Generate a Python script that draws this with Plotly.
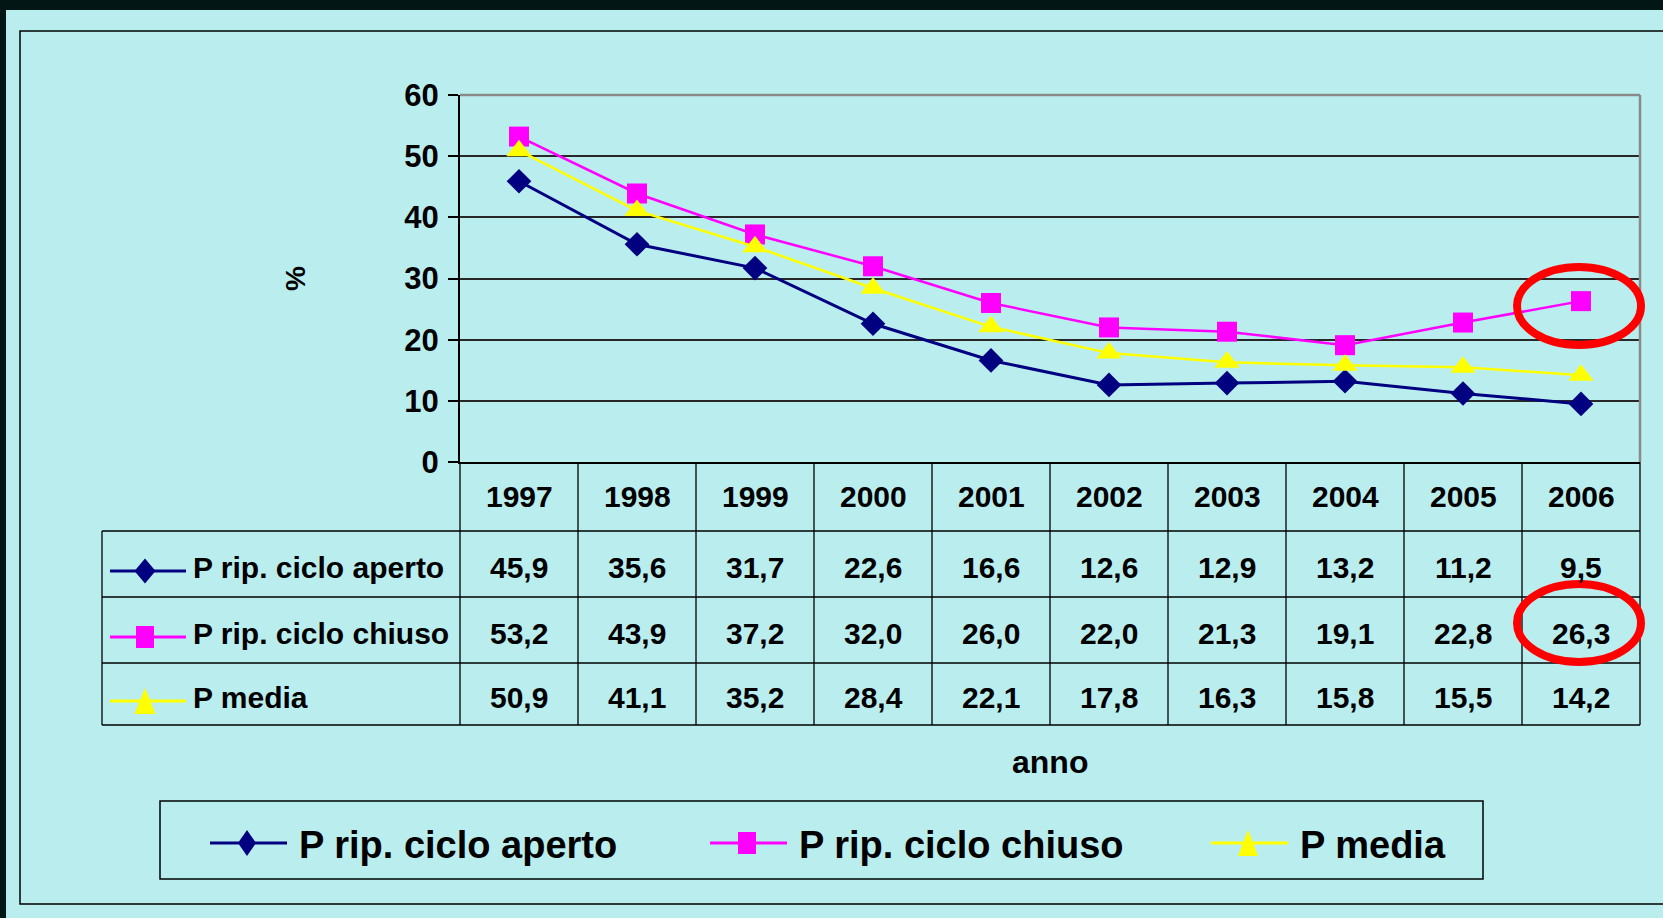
import plotly.graph_objects as go

# ---------------- data ----------------
years = ["1997", "1998", "1999", "2000", "2001", "2002", "2003", "2004", "2005", "2006"]
aperto = [45.9, 35.6, 31.7, 22.6, 16.6, 12.6, 12.9, 13.2, 11.2, 9.5]
chiuso = [53.2, 43.9, 37.2, 32.0, 26.0, 22.0, 21.3, 19.1, 22.8, 26.3]
media = [50.9, 41.1, 35.2, 28.4, 22.1, 17.8, 16.3, 15.8, 15.5, 14.2]
series_names = ["P rip. ciclo aperto", "P rip. ciclo chiuso", "P media"]
series_values = [aperto, chiuso, media]
series_colors = ["#000080", "#FF00FF", "#FFFF00"]
series_symbols = ["diamond", "square", "triangle-up"]
y_ticks = [0, 10, 20, 30, 40, 50, 60]
y_title = "%"
x_title = "anno"

# ---------------- layout geometry (pixels) ----------------
W, H = 1663, 918
L, R, T, B = 460, 1640, 95, 462
FONT = "Liberation Sans, Arial, sans-serif"
BG = "#BAEEEE"
DARK = "#031616"


def px(x):
    return (x - L) / (R - L)


def py(y):
    return (B - y) / (B - T)


def fmt(v):
    return f"{v:.1f}".replace(".", ",")


def bold(size):
    return dict(family=FONT, size=size, color="#000000", weight=700)


fig = go.Figure()
marker_sizes = [19, 20, 22]
line_widths = [3, 2.5, 2.5]
for name, vals, col, sym, ms, lw in zip(series_names, series_values, series_colors,
                                        series_symbols, marker_sizes, line_widths):
    fig.add_trace(go.Scatter(
        x=years, y=vals, name=name, mode="lines+markers",
        line=dict(color=col, width=lw),
        marker=dict(symbol=sym, size=ms, color=col, line=dict(width=0)),
        showlegend=False, cliponaxis=False,
    ))

shapes = []
annotations = []

# background + frames
shapes.append(dict(type="rect", xref="paper", yref="paper", layer="below",
                   x0=px(6), x1=px(W + 10), y0=py(10), y1=py(H + 10),
                   fillcolor=BG, line=dict(width=0)))
shapes.append(dict(type="rect", xref="paper", yref="paper", layer="below",
                   x0=px(20), x1=px(W + 20), y0=py(31), y1=py(904),
                   fillcolor="rgba(0,0,0,0)", line=dict(color="#000000", width=1.5)))
# grey plot-area border (top, right)
shapes.append(dict(type="line", xref="paper", yref="paper", x0=0, x1=1, y0=1, y1=1,
                   line=dict(color="#8A8A8A", width=2.5)))
shapes.append(dict(type="line", xref="paper", yref="paper", x0=1, x1=1, y0=0, y1=1,
                   line=dict(color="#8A8A8A", width=2.5)))

# data table
row_edges = [531, 597, 663, 725]
n = len(years)


def col_center(i):
    return (i + 0.5) / n


for i in range(n + 1):
    xb = i / n
    shapes.append(dict(type="line", xref="paper", yref="paper", x0=xb, x1=xb,
                       y0=py(B), y1=py(row_edges[-1]), line=dict(color="#000000", width=1.3)))
for ye in row_edges:
    shapes.append(dict(type="line", xref="paper", yref="paper", x0=px(102), x1=1,
                       y0=py(ye), y1=py(ye), line=dict(color="#000000", width=1.3)))
shapes.append(dict(type="line", xref="paper", yref="paper", x0=px(102), x1=px(102),
                   y0=py(row_edges[0]), y1=py(row_edges[-1]), line=dict(color="#000000", width=1.3)))

for i, yr in enumerate(years):
    annotations.append(dict(x=col_center(i), xref="paper", y=py(496), yref="paper", text=yr,
                            showarrow=False, xanchor="center", yanchor="middle",
                            font=bold(30)))


def key(x_start, x_end, x_mark, yc, sym, col, w, h, lw=3):
    shapes.append(dict(type="line", xref="paper", yref="paper", x0=px(x_start), x1=px(x_end),
                       y0=py(yc), y1=py(yc), line=dict(color=col, width=lw)))
    base = dict(xref="paper", yref="paper", xsizemode="pixel", ysizemode="pixel",
                xanchor=px(x_mark), yanchor=py(yc), fillcolor=col, line=dict(width=0))
    if sym == "square":
        s = dict(type="rect", x0=-w / 2, x1=w / 2, y0=-h / 2, y1=h / 2)
    elif sym == "diamond":
        s = dict(type="path", path=f"M0,{h/2} L{w/2},0 L0,{-h/2} L{-w/2},0 Z")
    else:
        s = dict(type="path", path=f"M{-w/2},{-h/2} L{w/2},{-h/2} L0,{h/2} Z")
    s.update(base)
    shapes.append(s)


key_sizes = [(21, 25), (18, 22), (21, 26)]
for r, (name, vals, col, sym) in enumerate(zip(series_names, series_values,
                                               series_colors, series_symbols)):
    yc = (row_edges[r] + row_edges[r + 1]) / 2 + 3
    key(110, 186, 145, yc + 4, sym, col, *key_sizes[r])
    annotations.append(dict(x=px(191), xref="paper", y=py(yc), yref="paper", text=name,
                            showarrow=False, xanchor="left", yanchor="middle",
                            font=bold(30)))
    for i, v in enumerate(vals):
        annotations.append(dict(x=col_center(i), xref="paper", y=py(yc), yref="paper",
                                text=fmt(v), showarrow=False, xanchor="center",
                                yanchor="middle", font=bold(30)))

# axis titles
annotations.append(dict(x=px(295), xref="paper", y=py(279), yref="paper", text=y_title,
                        showarrow=False, textangle=-90, xanchor="center", yanchor="middle",
                        font=bold(28)))
annotations.append(dict(x=px(1050), xref="paper", y=py(762), yref="paper", text=x_title,
                        showarrow=False, xanchor="center", yanchor="middle",
                        font=bold(32)))

# bottom legend
shapes.append(dict(type="rect", xref="paper", yref="paper", x0=px(160), x1=px(1483),
                   y0=py(801), y1=py(879), fillcolor="rgba(0,0,0,0)",
                   line=dict(color="#000000", width=1.5)))
leg_starts = [210, 710, 1211]
leg_sizes = [(18, 26), (18, 22), (20, 26)]
for x0, name, col, sym, (w, h) in zip(leg_starts, series_names, series_colors,
                                      series_symbols, leg_sizes):
    key(x0, x0 + 77, x0 + 37, 843, sym, col, w, h)
    annotations.append(dict(x=px(x0 + 87), xref="paper", y=py(845), yref="paper", text=name,
                            showarrow=False, xanchor="left", yanchor="middle",
                            font=bold(38)))

# red highlight ellipses
for cx, cy in [(1579, 306), (1579, 623)]:
    shapes.append(dict(type="circle", xref="paper", yref="paper",
                       x0=px(cx - 62), x1=px(cx + 62), y0=py(cy + 39), y1=py(cy - 39),
                       fillcolor="rgba(0,0,0,0)", line=dict(color="#FF0000", width=8)))

fig.update_layout(
    width=W, height=H,
    margin=dict(l=L, r=W - R, t=T, b=H - B, pad=0),
    paper_bgcolor=DARK,
    plot_bgcolor="rgba(0,0,0,0)",
    shapes=shapes,
    annotations=annotations,
    showlegend=False,
    xaxis=dict(type="category", range=[-0.5, n - 0.5], showticklabels=False, ticks="",
               showgrid=False, zeroline=False, showline=True, linecolor="#000000",
               linewidth=2, fixedrange=True),
    yaxis=dict(range=[0, 60], tickvals=y_ticks, ticks="outside", ticklen=10, tickwidth=1.5,
               tickcolor="#000000", showline=True, linecolor="#000000", linewidth=2,
               showgrid=True, gridcolor="#282828", gridwidth=1.6, zeroline=False,
               ticklabelstandoff=3, tickfont=bold(31), fixedrange=True),
)

fig.write_html(
    "out.html",
    config={"displayModeBar": False},
    post_script="document.body.style.margin='0px';"
                "document.body.style.overflow='hidden';"
                "document.body.style.background='" + DARK + "';",
)
